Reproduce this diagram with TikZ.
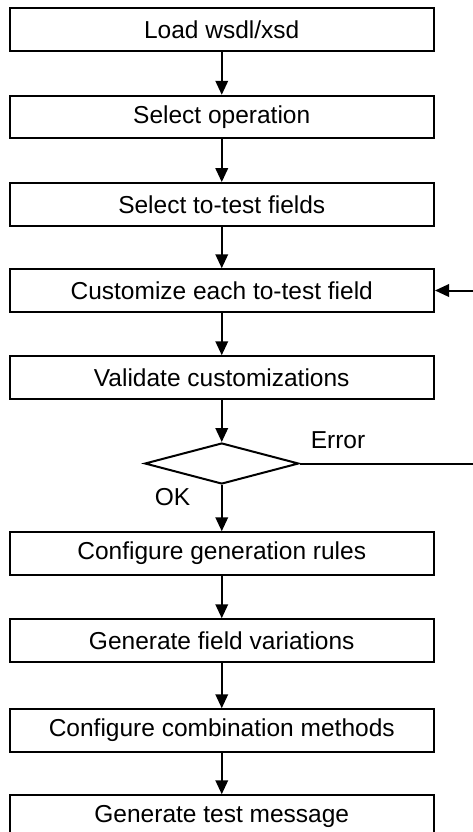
\documentclass[tikz,border=0pt]{standalone}
\usepackage{fontspec}
\setmainfont{Liberation Sans}
\usetikzlibrary{arrows.meta,shapes.geometric}
\begin{document}
\begin{tikzpicture}[x=1pt,y=-1pt,
  box/.style={draw,line width=2pt,minimum width=424.5pt,minimum height=42.5pt,inner sep=0pt,
    font=\fontsize{24.5}{29}\selectfont},
  dec/.style={draw,diamond,line width=2pt,minimum width=154pt,minimum height=41pt,inner sep=0pt,aspect=3.75},
  lbl/.style={font=\fontsize{24.5}{29}\selectfont,inner sep=0pt},
  arr/.style={line width=2pt,-{Triangle[length=14pt,width=12.5pt]}},
  ln/.style={line width=2pt}]
\useasboundingbox (0,0) rectangle (472,832);
\node[box] (n0) at (221.75,29.75) {Load wsdl/xsd};
\node[box] (n1) at (221.75,117.05) {Select operation};
\node[box] (n2) at (221.75,204.35) {Select to-test fields};
\node[box] (n3) at (221.75,290.5) {Customize each to-test field};
\node[box] (n4) at (221.75,377.5) {Validate customizations};
\node[dec] (d) at (221.75,463.5) {};
\node[box] (n6) at (221.75,553.5) {Configure generation rules};
\node[box] (n7) at (221.75,640.5) {Generate field variations};
\node[box] (n8) at (221.75,730.5) {Configure combination methods};
\node[box] (n9) at (221.75,816.5) {Generate test message};
\node[lbl] (err) at (338,440) {Error};
\node[lbl] (ok) at (172.5,497) {OK};
\coordinate (c1) at (480,463.5);
\coordinate (c2) at (480,290.5);
\draw[arr] (n0) -- (n1);
\draw[arr] (n1) -- (n2);
\draw[arr] (n2) -- (n3);
\draw[arr] (n3) -- (n4);
\draw[arr] (n4) -- (d);
\draw[arr] (d) -- (n6);
\draw[arr] (n6) -- (n7);
\draw[arr] (n7) -- (n8);
\draw[arr] (n8) -- (n9);
\draw[ln] (d.east) -- (c1) -- (c2);
\draw[arr] (c2) -- (n3.east);
\end{tikzpicture}
\end{document}
